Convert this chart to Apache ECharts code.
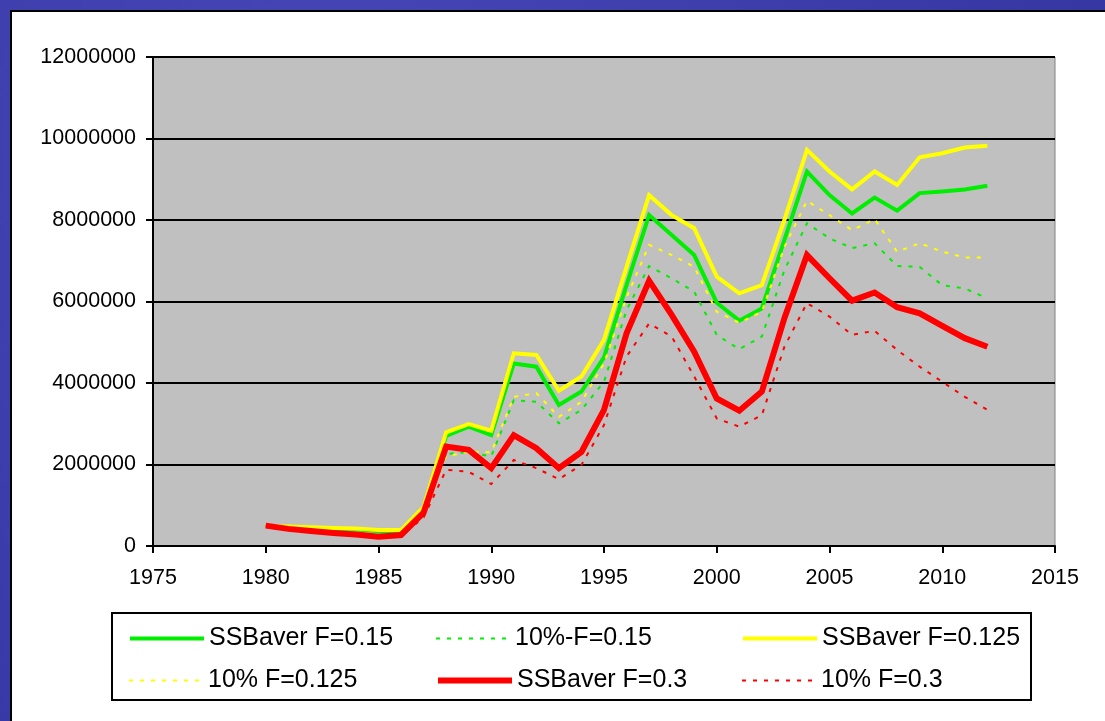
<!DOCTYPE html>
<html>
<head>
<meta charset="utf-8">
<style>
html, body { margin: 0; padding: 0; }
body {
    width: 1105px; height: 721px; overflow: hidden;
    background: #3d3dae;
    background-image: radial-gradient(circle at 30% 20%, #4747b8 0%, #3a3aa8 60%, #3434a0 100%);
}
#panel {
    position: absolute; left: 10px; top: 10px; width: 1110px; height: 730px;
    background: #fff; border: 2px solid #000;
}
#chart { position: absolute; left: 0; top: 0; width: 1105px; height: 721px; }
</style>
</head>
<body>
<div id="panel"></div>
<div id="chart"></div>
<script src="https://cdn.jsdelivr.net/npm/echarts@6/dist/echarts.min.js"></script>
<script>
// years on the x axis
var years = [1980, 1981, 1982, 1983, 1984, 1985, 1986, 1987, 1988, 1989,
             1990, 1991, 1992, 1993, 1994, 1995, 1996, 1997, 1998, 1999,
             2000, 2001, 2002, 2003, 2004, 2005, 2006, 2007, 2008, 2009,
             2010, 2011, 2012];
// SSBaver F=0.15
var ssbF015 = [500000, 460000, 440000, 420000, 410000, 360000, 360000, 920000, 2700000, 2930000,
               2720000, 4480000, 4400000, 3460000, 3790000, 4630000, 6400000, 8120000, 7630000, 7140000,
               5970000, 5530000, 5830000, 7510000, 9190000, 8610000, 8160000, 8550000, 8230000, 8660000,
               8700000, 8750000, 8840000];
// 10%-F=0.15
var p10F015 = [500000, 460000, 440000, 420000, 400000, 350000, 350000, 850000, 2260000, 2300000,
               2200000, 3580000, 3540000, 3010000, 3340000, 4030000, 5790000, 6870000, 6570000, 6240000,
               5180000, 4830000, 5140000, 6770000, 7920000, 7550000, 7310000, 7430000, 6870000, 6850000,
               6400000, 6320000, 6080000];
// SSBaver F=0.125
var ssbF0125 = [500000, 480000, 460000, 440000, 430000, 390000, 390000, 960000, 2790000, 2990000,
                2830000, 4730000, 4690000, 3810000, 4160000, 5060000, 6850000, 8610000, 8120000, 7800000,
                6610000, 6200000, 6400000, 8000000, 9720000, 9190000, 8750000, 9190000, 8860000, 9540000,
                9640000, 9780000, 9820000];
// 10% F=0.125
var p10F0125 = [500000, 470000, 450000, 430000, 420000, 380000, 380000, 880000, 2200000, 2310000,
                2300000, 3660000, 3750000, 3170000, 3540000, 4480000, 6100000, 7390000, 7140000, 6850000,
                5750000, 5480000, 5750000, 7340000, 8470000, 8120000, 7750000, 8020000, 7220000, 7430000,
                7220000, 7080000, 7080000];
// SSBaver F=0.3
var ssbF03 = [500000, 420000, 370000, 320000, 280000, 230000, 270000, 820000, 2440000, 2360000,
              1910000, 2720000, 2400000, 1910000, 2310000, 3340000, 5220000, 6510000, 5670000, 4770000,
              3620000, 3320000, 3790000, 5590000, 7140000, 6570000, 6020000, 6220000, 5860000, 5710000,
              5400000, 5100000, 4890000];
// 10% F=0.3
var p10F03 = [500000, 410000, 360000, 310000, 270000, 220000, 250000, 700000, 1870000, 1820000,
              1520000, 2110000, 1910000, 1640000, 1990000, 2970000, 4650000, 5460000, 5140000, 4160000,
              3130000, 2930000, 3210000, 4890000, 5960000, 5630000, 5180000, 5280000, 4810000, 4400000,
              4030000, 3660000, 3340000];

var seriesNames = ['SSBaver F=0.15', '10%-F=0.15', 'SSBaver F=0.125',
                   '10% F=0.125', 'SSBaver F=0.3', '10% F=0.3'];

function pairs(vals) {
    var out = [];
    for (var i = 0; i < years.length; i++) {
        out.push([years[i], vals[i]]);
    }
    return out;
}

var font = 'Liberation Sans, Arial, sans-serif';
var dash = [4, 7];

// colour / width / dashed for each series, same order as seriesNames
var looks = [
    { color: '#00ee00', width: 4, dashed: false },
    { color: '#00ee00', width: 2, dashed: true },
    { color: '#ffff00', width: 4, dashed: false },
    { color: '#ffff00', width: 2, dashed: true },
    { color: '#ff0000', width: 6, dashed: false },
    { color: '#ff0000', width: 2, dashed: true }
];
var values = [ssbF015, p10F015, ssbF0125, p10F0125, ssbF03, p10F03];

var series = [];
for (var s = 0; s < seriesNames.length; s++) {
    series.push({
        name: seriesNames[s], type: 'line', data: pairs(values[s]),
        symbol: 'none', showSymbol: false, silent: true,
        lineStyle: {
            color: looks[s].color, width: looks[s].width,
            type: looks[s].dashed ? dash : 'solid', join: 'miter'
        },
        itemStyle: { color: looks[s].color }
    });
}

// legend: 3 columns x 2 rows, one legend per item so the cells line up
var legendCols = [123, 430, 736];
var legendRows = [621, 663];
var legends = [];
for (var k = 0; k < seriesNames.length; k++) {
    legends.push({
        data: [seriesNames[k]],
        left: legendCols[k % 3],
        top: legendRows[Math.floor(k / 3)],
        itemWidth: 74,
        itemHeight: 14,
        itemGap: 0,
        selectedMode: false,
        itemStyle: { opacity: 0 },
        lineStyle: {
            color: looks[k].color, width: looks[k].width,
            type: looks[k].dashed ? dash : 'solid'
        },
        textStyle: { fontFamily: font, fontSize: 25, color: '#000' }
    });
}

var chart = echarts.init(document.getElementById('chart'));
chart.setOption({
    animation: false,
    backgroundColor: 'transparent',
    textStyle: { fontFamily: font },
    grid: {
        left: 153, right: 50, top: 57, bottom: 175,
        show: true, backgroundColor: '#c0c0c0',
        borderColor: '#808080', borderWidth: 1
    },
    legend: legends,
    graphic: [{
        type: 'rect', silent: true, z: -1,
        shape: { x: 112, y: 613, width: 919, height: 87 },
        style: { fill: '#fff', stroke: '#000', lineWidth: 2 }
    }],
    xAxis: {
        type: 'value', min: 1975, max: 2015, interval: 5,
        axisLine: { show: true, onZero: false, lineStyle: { color: '#000', width: 2 } },
        axisTick: { show: true, length: 7, lineStyle: { color: '#000', width: 2 } },
        axisLabel: { color: '#000', fontSize: 21.5, margin: 21, fontFamily: font,
                     formatter: function (v) { return String(v); } },
        splitLine: { show: false }
    },
    yAxis: {
        type: 'value', min: 0, max: 12000000, interval: 2000000,
        axisLine: { show: true, lineStyle: { color: '#000', width: 2 } },
        axisTick: { show: true, length: 7, lineStyle: { color: '#000', width: 2 } },
        axisLabel: { color: '#000', fontSize: 21.5, margin: 17, fontFamily: font,
                     formatter: function (v) { return String(v); } },
        splitLine: { show: true, lineStyle: { color: '#000', width: 2 } }
    },
    series: series
});
</script>
</body>
</html>
